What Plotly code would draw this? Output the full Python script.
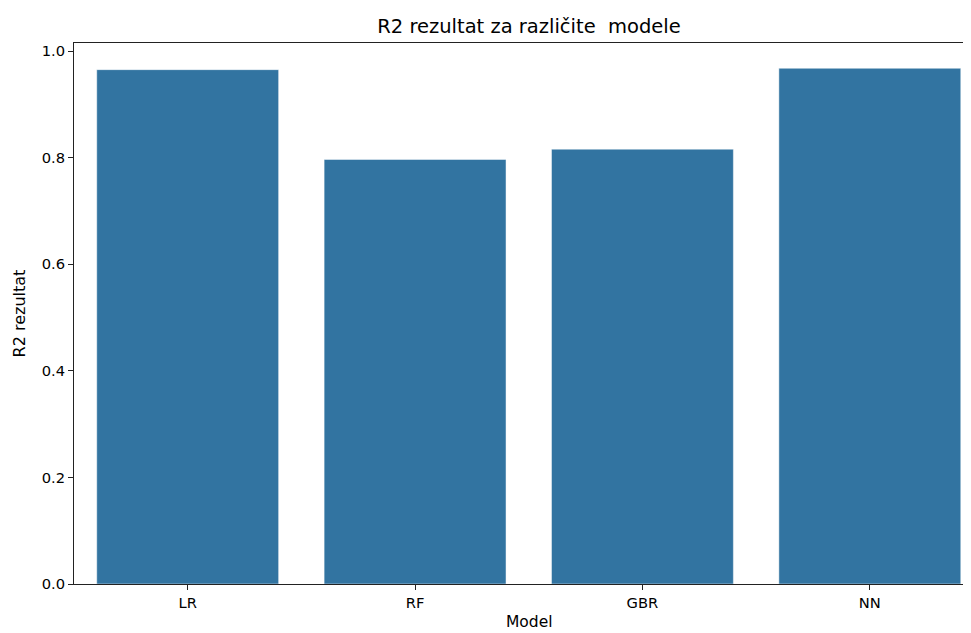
import plotly.graph_objects as go

models = ["LR", "RF", "GBR", "NN"]
r2_scores = [0.965, 0.7965, 0.8158, 0.9676]
y_ticks = [0.0, 0.2, 0.4, 0.6, 0.8, 1.0]
title_text = "R2 rezultat za različite  modele"
x_label = "Model"
y_label = "R2 rezultat"

# page body has an 8px margin; compensate so the plot lands where the reference has it
OFF = 8
W, H = 971 - OFF, 633 - OFF
L, R, T, B = 74 - OFF, 0, 43 - OFF, 49
plot_w = W - L - R
plot_h = H - T - B

fig = go.Figure(go.Bar(
    x=list(range(len(models))), y=r2_scores,
    width=0.8,
    marker=dict(color="#3274a1", line=dict(color="rgba(255,255,255,0.6)", width=0.8)),
    hoverinfo="x+y",
))

font = "DejaVu Sans, Liberation Sans, sans-serif"
fig.update_layout(
    width=W, height=H,
    margin=dict(l=L, r=R, t=T, b=B),
    plot_bgcolor="white", paper_bgcolor="white",
    font=dict(family=font, size=15, color="black"),
    showlegend=False,
    title=dict(text=title_text, x=(529 - OFF) / W, xanchor="center", xref="container",
               y=1 - (26 - OFF) / H, yanchor="middle", yref="container",
               font=dict(size=19.5, color="black", family=font)),
)
# x-axis label centred on the full (partly cropped) axes, as in the reference
fig.add_annotation(
    text=x_label, xref="paper", yref="paper",
    x=(529 - 74) / plot_w, y=-(622 - 584) / plot_h,
    xanchor="center", yanchor="middle", showarrow=False,
    font=dict(size=15.5, color="black", family=font),
)
fig.update_xaxes(
    range=[-0.5, 3.445],
    tickmode="array", tickvals=list(range(len(models))), ticktext=models,
    showline=True, linecolor="#222", linewidth=1, mirror=True,
    ticks="outside", ticklen=5, tickcolor="#222", tickwidth=1,
    showgrid=False, zeroline=False,
    tickfont=dict(size=14.7),
)
fig.update_yaxes(
    range=[0, 1.015],
    tickmode="array", tickvals=y_ticks, ticktext=[f"{v:.1f}" for v in y_ticks],
    showline=True, linecolor="#222", linewidth=1, mirror=False,
    ticks="outside", ticklen=5, tickcolor="#222", tickwidth=1,
    showgrid=False, zeroline=False,
    title=dict(text=y_label, standoff=12, font=dict(size=16)),
    tickfont=dict(size=14.7),
)

fig.write_html("out.html")
